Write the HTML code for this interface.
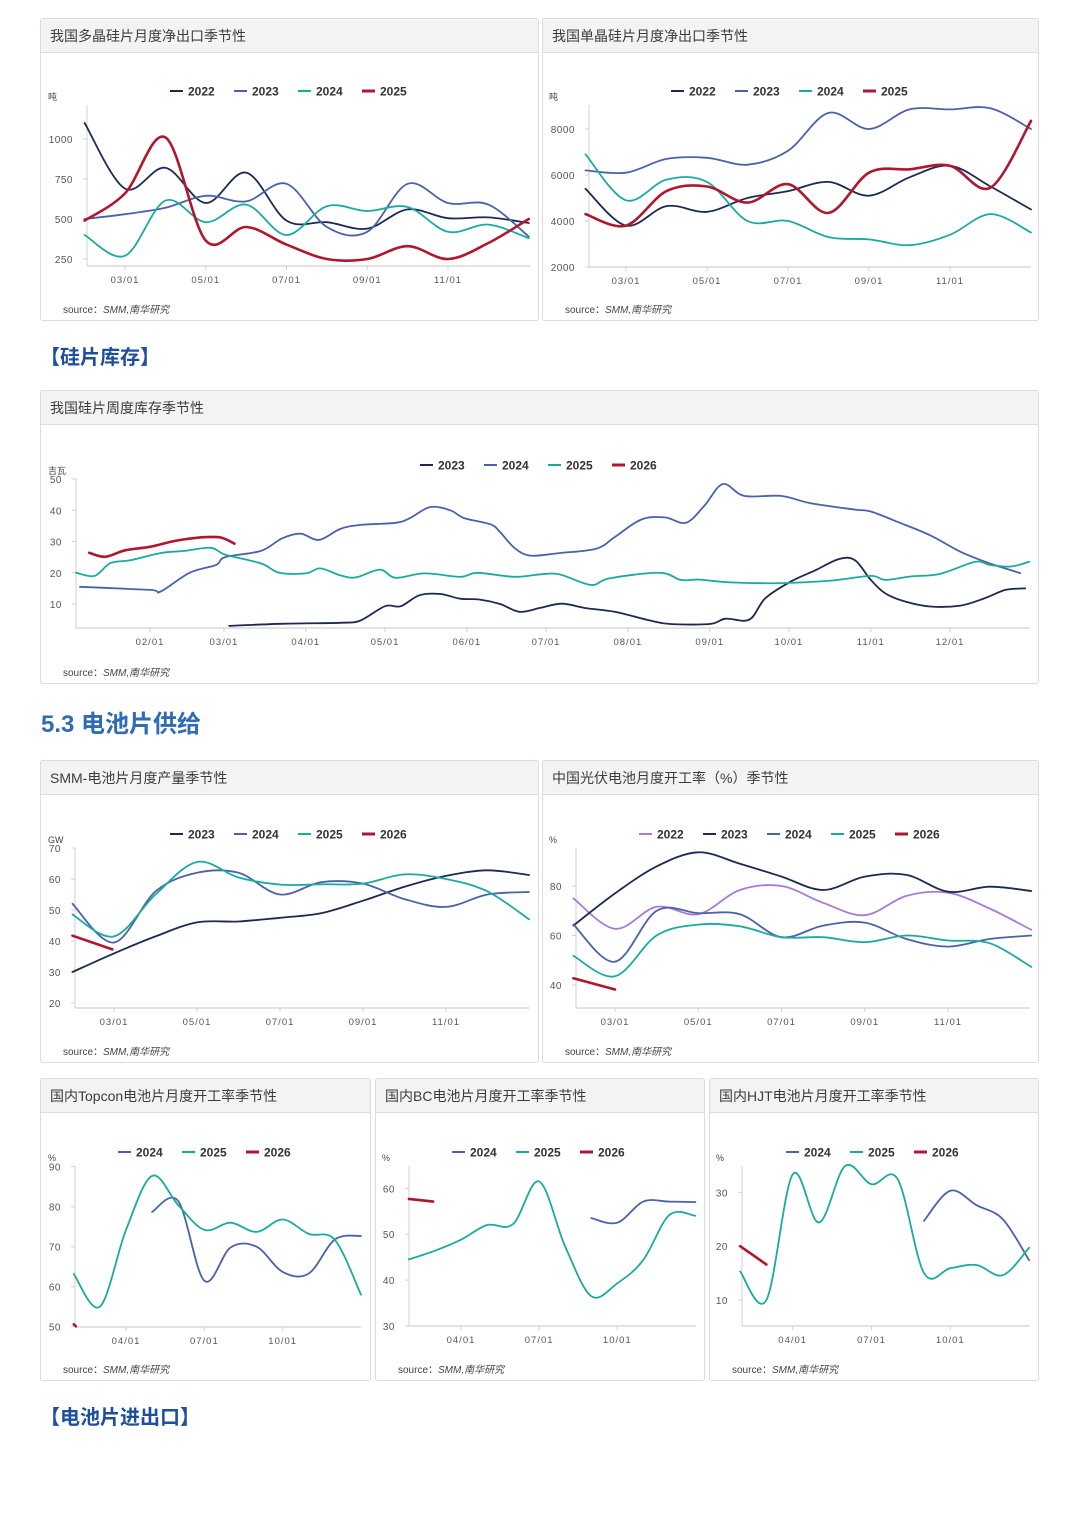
<!DOCTYPE html>
<html><head><meta charset="utf-8">
<style>
html,body{margin:0;padding:0;background:#fff;}
svg{display:block;font-family:"Liberation Sans","Noto Sans CJK SC",sans-serif;}
</style></head>
<body>
<svg id="root" width="1080" height="1513" viewBox="0 0 1080 1513" xmlns="http://www.w3.org/2000/svg">
<rect x="0" y="0" width="1080" height="1513" fill="#fff"/>
<text x="40" y="364" font-size="20" font-weight="bold" fill="#1e4f9c">【硅片库存】</text>
<text x="41" y="732" font-size="24" font-weight="bold" fill="#2f6cb5">5.3 电池片供给</text>
<text x="40" y="1424" font-size="20" font-weight="bold" fill="#1e4f9c">【电池片进出口】</text>
</svg>
<script>
// ---------- DATA ----------
const months = [2,3,4,5,6,7,8,9,10,11,12,13];
const monthTickVals = [3,5,7,9,11];
const monthTickLabels = ["03/01","05/01","07/01","09/01","11/01"];
const qTickVals = [4,7,10];
const qTickLabels = ["04/01","07/01","10/01"];

// Chart 1: polysilicon wafer net export (吨)
const c1Ticks = [250,500,750,1000];
const c1_2022 = [1100,690,820,600,790,490,480,440,560,505,510,475];
const c1_2023 = [500,530,570,645,610,720,450,420,720,600,590,390];
const c1_2024 = [400,270,615,480,590,400,580,550,575,420,465,380];
const c1_2025 = [490,660,1010,365,450,340,250,250,330,250,350,500];

// Chart 2: mono wafer net export (吨)
const c2Ticks = [2000,4000,6000,8000];
const c2_2022 = [5400,3800,4650,4400,5000,5300,5700,5100,5900,6400,5500,4500];
const c2_2023 = [6200,6100,6700,6750,6450,7050,8700,8000,8850,8850,8900,8000];
const c2_2024 = [6900,4900,5800,5700,4000,4000,3300,3200,2950,3400,4300,3500];
const c2_2025 = [4300,3800,5300,5500,4800,5600,4350,6100,6250,6400,5450,8350];

// Chart 3: weekly wafer inventory (吉瓦), x = day of year
const c3Ticks = [10,20,30,40,50];
const c3TickDays = [31,59,90,120,151,181,212,243,273,304,334];
const c3TickLabels = ["02/01","03/01","04/01","05/01","06/01","07/01","08/01","09/01","10/01","11/01","12/01"];
const c3_2023_days = [61,82,103,110.6,120,126,133,141,148.5,156,163.6,171,179,187,196,207,220,228,243,249,258,264,273.5,283,292,298,304,309.5,317,326.5,338,347,355,362.5];
const c3_2023 = [3,3.7,4,4.7,9.3,9.3,12.8,13.2,11.7,11.4,10,7.5,8.8,10.1,8.7,7.5,4.8,3.6,3.6,5.3,5,11.8,17.1,20.8,24.4,24,17.7,13.4,10.8,9.2,9.5,11.8,14.5,15];
const c3_2024_days = [4.5,31,35,46,56,59.5,73,81,88,95,103,110.6,124,129.5,137,144.7,150,160,163.6,169,175,186,200,207,217,226,234,241,248,256,270,281,298,304,315,326.5,338,349,360.6];
const c3_2024 = [15.5,14.5,14,20,22.5,25,27,31,32.5,30.5,34,35.3,36,37.5,41,40,37.5,35.5,33,28,25.5,26.3,27.7,31.4,37,37.7,36,41.5,48.4,44.6,44.6,42.3,40.2,39.6,36,32,26.7,23,19.9];
const c3_2025_days = [3,10,16,23.5,35,44,54,59.5,73,80,90,95.5,103,109,118,124,135,148.5,155,169,179,186,198,205,224,232,239,251,270,289,304,309.5,319,330,343.6,349,357,364];
const c3_2025 = [20,19,23.1,24,26.3,27,28,25.8,23,20,19.8,21.4,19.2,18.5,21,18.4,19.8,18.7,20,18.7,19.5,19.5,16.1,18.2,20,17.7,17.8,16.9,16.7,17.5,19,17.7,18.8,19.6,23.5,22.5,22,23.5];
const c3_2026_days = [8,14,21.6,31,40.5,50,57.6,63];
const c3_2026 = [26.4,25.1,27.2,28.3,30.2,31.3,31.3,29.3];

// Chart 4: SMM cell monthly output (GW)
const c4Ticks = [20,30,40,50,60,70];
const c4_2023 = [30,36,41.5,46,46.3,47.5,49,53,57.5,61,62.8,61.3];
const c4_2024 = [52,39.5,56,62,62,55,59,58.5,53.5,51,55,55.8];
const c4_2025 = [48.5,41.5,55,65.5,60.5,58.2,58.3,58.5,61.5,60,56,47];
const c4_2026_m = [2,2.96];
const c4_2026 = [41.7,37.3];

// Chart 5: China PV cell operating rate (%)
const c5Ticks = [40,60,80];
const c5_2022 = [75,62.7,71.6,68.6,78.4,80,73.2,68.2,76,77.3,70.9,62.3];
const c5_2023 = [64,77,87.9,93.6,89,83.8,78.4,83.8,84.5,77.7,79.7,78];
const c5_2024 = [64.5,49.4,70,69,68.6,59.3,64,65.2,58.6,55.5,58.6,60];
const c5_2025 = [51.8,43.5,60,64.4,63.7,59.3,59.3,57.3,60,58,56.9,47.3];
const c5_2026_m = [2,3];
const c5_2026 = [42.7,38.2];

// Chart 6: Topcon operating rate (%)
const c6Ticks = [50,60,70,80,90];
const c6_2024_m = [5,6,7,8,9,10,11,12,13];
const c6_2024 = [78.7,81.4,61.5,69.8,70,63.7,63.3,71.8,72.7];
const c6_2025 = [63.2,55,74.2,87.7,80.4,74.2,76,73.7,76.8,73.2,71.7,58];
const c6_2026_m = [2,2.08];
const c6_2026 = [50.6,50.1];

// Chart 7: BC operating rate (%)
const c7Ticks = [30,40,50,60];
const c7_2024_m = [9,10,11,12,13];
const c7_2024 = [53.5,52.5,57.1,57.1,57];
const c7_2025 = [44.5,46.4,48.8,52,52.2,61.5,47.3,36.5,39.3,44.4,54.2,54];
const c7_2026_m = [2,2.93];
const c7_2026 = [57.7,57.1];

// Chart 8: HJT operating rate (%)
const c8Ticks = [10,20,30];
const c8_2024_m = [9,10,11,12,13];
const c8_2024 = [24.7,30.3,27.6,25,17.4];
const c8_2025 = [15.3,10,33.3,24.4,34.9,31.5,32.4,15,15.9,16.5,14.6,19.7];
const c8_2026_m = [2,3];
const c8_2026 = [20,16.6];

// ---------- RENDERING ----------
const NS = "http://www.w3.org/2000/svg";
const root = document.getElementById("root");
const COL = {navy:"#1b2a52", blue:"#4a62a8", teal:"#1aab9f", red:"#b2162e", purple:"#a77bd6"};

function el(tag, attrs, parent, text){
  const e = document.createElementNS(NS, tag);
  for (const k in attrs) e.setAttribute(k, attrs[k]);
  if (text !== undefined) e.textContent = text;
  (parent || root).appendChild(e);
  return e;
}
function lin(d0,d1,r0,r1){ return v => r0 + (v-d0)*(r1-r0)/(d1-d0); }
function smoothPath(pts){
  if (pts.length < 2) return "";
  let d = "M" + pts[0][0].toFixed(1) + "," + pts[0][1].toFixed(1);
  if (pts.length === 2) return d + "L" + pts[1][0].toFixed(1) + "," + pts[1][1].toFixed(1);
  for (let i=0;i<pts.length-1;i++){
    const p0 = pts[i-1] || pts[i], p1 = pts[i], p2 = pts[i+1], p3 = pts[i+2] || pts[i+1];
    const c1x = p1[0] + (p2[0]-p0[0])/6, c1y = p1[1] + (p2[1]-p0[1])/6;
    const c2x = p2[0] - (p3[0]-p1[0])/6, c2y = p2[1] - (p3[1]-p1[1])/6;
    d += "C"+c1x.toFixed(1)+","+c1y.toFixed(1)+" "+c2x.toFixed(1)+","+c2y.toFixed(1)+" "+p2[0].toFixed(1)+","+p2[1].toFixed(1);
  }
  return d;
}

function panel(x,y,w,h,title,name){
  const g = el("g",{});
  
  
  el("rect",{x:x+0.5,y:y+0.5,width:w-1,height:h-1,fill:"#fff",stroke:"#dcdcdc","stroke-width":1,rx:2},g);
  const hd = el("rect",{x:x+1,y:y+1,width:w-2,height:33,fill:"#f2f3f5"},g);
  
  
  el("line",{x1:x+1,y1:y+34.5,x2:x+w-1,y2:y+34.5,stroke:"#dddddd"},g);
  const t = el("text",{x:x+10,y:y+23,"font-size":14,fill:"#3c3c3c"},g,title);
  
  
  const s = el("text",{x:x+23,y:y+h-8,"font-size":10,fill:"#444"},g);
  
  
  el("tspan",{},s,"source：");
  el("tspan",{"font-style":"italic"},s,"SMM,南华研究");
  return g;
}

function chart(c){
  const g = el("g",{});
  
  
  const b = c.box;
  // axes
  const ya = el("line",{x1:b.l,y1:b.t,x2:b.l,y2:b.b,stroke:"#d0d0d0","stroke-width":1},g);
  
  
  const xa = el("line",{x1:b.l,y1:b.b,x2:b.r,y2:b.b,stroke:"#d0d0d0","stroke-width":1.2},g);
  
  
  c.yTicks.forEach(v=>{
    const yy = c.y(v);
    el("line",{x1:b.l-4,y1:yy,x2:b.l,y2:yy,stroke:"#d0d0d0"},g);
    const t = el("text",{x:b.l-14,y:yy+4,"font-size":10,fill:"#555","text-anchor":"end","letter-spacing":"0.5"},g,String(v));
    
    
  });
  c.xTicks.forEach((v,i)=>{
    const xx = c.x(v);
    el("line",{x1:xx,y1:b.b,x2:xx,y2:b.b+4,stroke:"#d0d0d0"},g);
    const t = el("text",{x:xx,y:b.b+17,"font-size":9.5,fill:"#555","text-anchor":"middle","letter-spacing":"1"},g,c.xLabels[i]);
    
    
  });
  const u = el("text",{x:c.unitX,y:b.t-5,"font-size":9,fill:"#444"},g,c.unit);
  
  
  // legend
  c.series.forEach((s,i)=>{
    const lx = c.legendX + i*64, ly = b.t - 14;
    const lg = el("g",{},g);
    
    
    el("line",{x1:lx,y1:ly,x2:lx+13,y2:ly,stroke:s.color,"stroke-width":s.color===COL.red?3:2},lg);
    el("text",{x:lx+18,y:ly+4.5,"font-size":12,"font-weight":"bold",fill:"#333"},lg,s.label);
  });
  // series
  c.series.forEach(s=>{
    const pts = s.vals.map((v,i)=>[c.x(s.xs[i]), c.y(v)]);
    const p = el("path",{d:smoothPath(pts),fill:"none",stroke:s.color,"stroke-width":s.color===COL.red?2.6:1.8,"stroke-linejoin":"round","stroke-linecap":"round"},g);
    
    
  });
}

// Panels
panel(40,18,499,303,"我国多晶硅片月度净出口季节性","panel-poly-wafer-export");
panel(542,18,497,303,"我国单晶硅片月度净出口季节性","panel-mono-wafer-export");
panel(40,390,999,294,"我国硅片周度库存季节性","panel-wafer-inventory");
panel(40,760,499,303,"SMM-电池片月度产量季节性","panel-cell-output");
panel(542,760,497,303,"中国光伏电池月度开工率（%）季节性","panel-cell-operating-rate");
panel(40,1078,331,303,"国内Topcon电池片月度开工率季节性","panel-topcon-rate");
panel(375,1078,330,303,"国内BC电池片月度开工率季节性","panel-bc-rate");
panel(709,1078,330,303,"国内HJT电池片月度开工率季节性","panel-hjt-rate");

chart({name:"chart-poly-wafer-export", box:{l:87,r:530,t:105,b:266},
  x:lin(3,11,125,448), y:lin(250,1000,259,139), yTicks:c1Ticks, xTicks:monthTickVals, xLabels:monthTickLabels,
  unit:"吨", unitX:48, legendX:170,
  series:[{label:"2022",color:COL.navy,xs:months,vals:c1_2022},{label:"2023",color:COL.blue,xs:months,vals:c1_2023},
          {label:"2024",color:COL.teal,xs:months,vals:c1_2024},{label:"2025",color:COL.red,xs:months,vals:c1_2025}]});
chart({name:"chart-mono-wafer-export", box:{l:589,r:1031,t:105,b:267},
  x:lin(3,11,626,950), y:lin(2000,8000,267,129), yTicks:c2Ticks, xTicks:monthTickVals, xLabels:monthTickLabels,
  unit:"吨", unitX:549, legendX:671,
  series:[{label:"2022",color:COL.navy,xs:months,vals:c2_2022},{label:"2023",color:COL.blue,xs:months,vals:c2_2023},
          {label:"2024",color:COL.teal,xs:months,vals:c2_2024},{label:"2025",color:COL.red,xs:months,vals:c2_2025}]});
chart({name:"chart-wafer-inventory", box:{l:76,r:1030,t:479,b:628},
  x:lin(31,334,150,950), y:lin(10,50,604,479), yTicks:c3Ticks, xTicks:c3TickDays, xLabels:c3TickLabels,
  unit:"吉瓦", unitX:48, legendX:420,
  series:[{label:"2023",color:COL.navy,xs:c3_2023_days,vals:c3_2023},{label:"2024",color:COL.blue,xs:c3_2024_days,vals:c3_2024},
          {label:"2025",color:COL.teal,xs:c3_2025_days,vals:c3_2025},{label:"2026",color:COL.red,xs:c3_2026_days,vals:c3_2026}]});
chart({name:"chart-cell-output", box:{l:75,r:529,t:848,b:1008},
  x:lin(3,11,114,446), y:lin(20,70,1003,848), yTicks:c4Ticks, xTicks:monthTickVals, xLabels:monthTickLabels,
  unit:"GW", unitX:48, legendX:170,
  series:[{label:"2023",color:COL.navy,xs:months,vals:c4_2023},{label:"2024",color:COL.blue,xs:months,vals:c4_2024},
          {label:"2025",color:COL.teal,xs:months,vals:c4_2025},{label:"2026",color:COL.red,xs:c4_2026_m,vals:c4_2026}]});
chart({name:"chart-cell-operating-rate", box:{l:576,r:1030,t:848,b:1008},
  x:lin(3,11,615,948), y:lin(40,80,985,886), yTicks:c5Ticks, xTicks:monthTickVals, xLabels:monthTickLabels,
  unit:"%", unitX:549, legendX:639,
  series:[{label:"2022",color:COL.purple,xs:months,vals:c5_2022},{label:"2023",color:COL.navy,xs:months,vals:c5_2023},
          {label:"2024",color:COL.blue,xs:months,vals:c5_2024},{label:"2025",color:COL.teal,xs:months,vals:c5_2025},
          {label:"2026",color:COL.red,xs:c5_2026_m,vals:c5_2026}]});
chart({name:"chart-topcon-rate", box:{l:75,r:361,t:1166,b:1327},
  x:lin(4,10,126,282.7), y:lin(50,90,1326.7,1166.7), yTicks:c6Ticks, xTicks:qTickVals, xLabels:qTickLabels,
  unit:"%", unitX:48, legendX:118,
  series:[{label:"2024",color:COL.blue,xs:c6_2024_m,vals:c6_2024},{label:"2025",color:COL.teal,xs:months,vals:c6_2025},
          {label:"2026",color:COL.red,xs:c6_2026_m,vals:c6_2026}]});
chart({name:"chart-bc-rate", box:{l:409,r:696,t:1166,b:1326},
  x:lin(4,10,461,617.3), y:lin(30,60,1326,1188.3), yTicks:c7Ticks, xTicks:qTickVals, xLabels:qTickLabels,
  unit:"%", unitX:382, legendX:452,
  series:[{label:"2024",color:COL.blue,xs:c7_2024_m,vals:c7_2024},{label:"2025",color:COL.teal,xs:months,vals:c7_2025},
          {label:"2026",color:COL.red,xs:c7_2026_m,vals:c7_2026}]});
chart({name:"chart-hjt-rate", box:{l:742,r:1030,t:1166,b:1326},
  x:lin(4,10,792.7,950.3), y:lin(10,30,1300,1192.3), yTicks:c8Ticks, xTicks:qTickVals, xLabels:qTickLabels,
  unit:"%", unitX:716, legendX:786,
  series:[{label:"2024",color:COL.blue,xs:c8_2024_m,vals:c8_2024},{label:"2025",color:COL.teal,xs:months,vals:c8_2025},
          {label:"2026",color:COL.red,xs:c8_2026_m,vals:c8_2026}]});
</script>
</body></html>
